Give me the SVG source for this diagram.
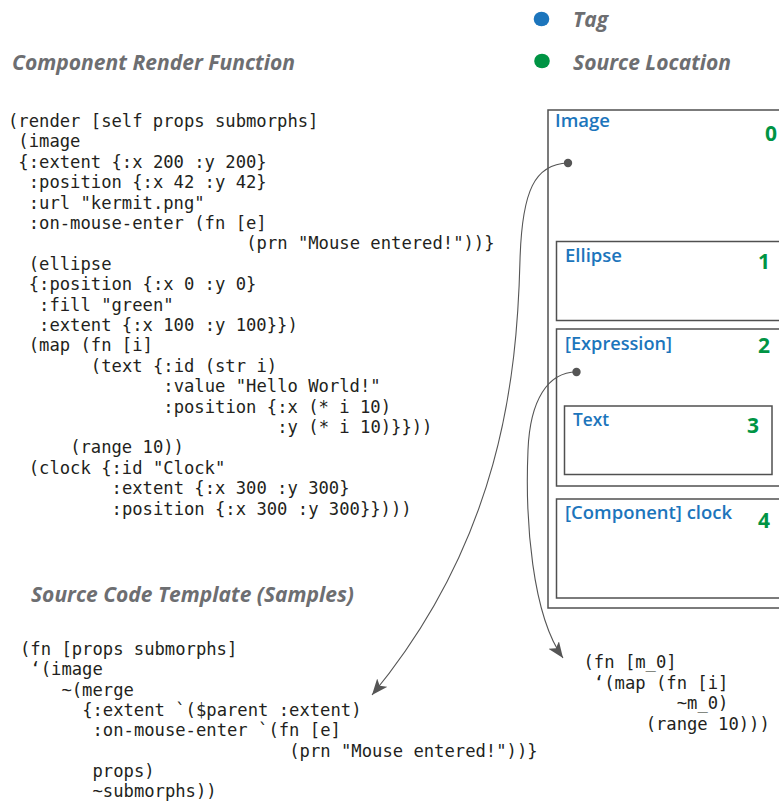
<svg xmlns="http://www.w3.org/2000/svg" width="779" height="803" viewBox="0 0 779 803">
  <style>
    .heading { font-family: "Open Sans", "Noto Sans", sans-serif; font-style: italic; font-weight: 700; font-size: 22px; fill: #6d6e71; }
    .code { font-family: "DejaVu Sans Mono", "Liberation Mono", monospace; font-size: 17.2px; fill: #231f20; }
    .tag { font-family: "Open Sans", "Noto Sans", sans-serif; font-weight: 600; font-size: 18px; fill: #1c75bc; }
    .loc { font-family: "Open Sans", "Noto Sans", sans-serif; font-weight: 700; font-size: 21px; fill: #009444; }
    .box { fill: #ffffff; stroke: #505050; stroke-width: 1.5; }
    .link { fill: none; stroke: #555555; stroke-width: 1.1; }
    .anchor { fill: #555555; }
  </style>
  <defs>
    <marker id="arrow" markerUnits="userSpaceOnUse" markerWidth="17" markerHeight="14" refX="16" refY="6.5" orient="auto">
      <path d="M0,0 L16,6.5 L0,13 L4,6.5 z" fill="#555555"/>
    </marker>
  </defs>

  <rect width="779" height="803" fill="#ffffff"/>

  <!-- legend -->
  <g id="legend">
    <ellipse cx="541.5" cy="19" rx="7.8" ry="7.3" fill="#1c75bc"/>
    <text class="heading" x="573" y="27" textLength="35" lengthAdjust="spacingAndGlyphs">Tag</text>
    <ellipse cx="542" cy="61" rx="7.8" ry="7.3" fill="#009444"/>
    <text class="heading" x="573" y="70" textLength="158" lengthAdjust="spacingAndGlyphs">Source Location</text>
  </g>

  <!-- section titles -->
  <text class="heading" x="12" y="70" textLength="283" lengthAdjust="spacingAndGlyphs">Component Render Function</text>
  <text class="heading" x="31" y="602" textLength="323" lengthAdjust="spacingAndGlyphs">Source Code Template (Samples)</text>

  <!-- render function source; indents are laid out on a 10.356px column grid -->
  <g id="render-code" class="code">
    <text x="8" y="127">(render [self props submorphs]</text>
    <text x="18.36" y="147.4">(image</text>
    <text x="18.36" y="167.8">{:extent {:x 200 :y 200}</text>
    <text x="28.71" y="188.2">:position {:x 42 :y 42}</text>
    <text x="28.71" y="208.6">:url "kermit.png"</text>
    <text x="28.71" y="229">:on-mouse-enter (fn [e]</text>
    <text x="246.19" y="249.4">(prn "Mouse entered!"))}</text>
    <text x="28.71" y="269.8">(ellipse</text>
    <text x="28.71" y="290.2">{:position {:x 0 :y 0}</text>
    <text x="39.07" y="310.6">:fill "green"</text>
    <text x="39.07" y="331">:extent {:x 100 :y 100}})</text>
    <text x="28.71" y="351.4">(map (fn [i]</text>
    <text x="90.85" y="371.8">(text {:id (str i)</text>
    <text x="163.34" y="392.2">:value "Hello World!"</text>
    <text x="163.34" y="412.6">:position {:x (* i 10)</text>
    <text x="277.26" y="433">:y (* i 10)}}))</text>
    <text x="70.14" y="453.4">(range 10))</text>
    <text x="28.71" y="473.8">(clock {:id "Clock"</text>
    <text x="111.56" y="494.2">:extent {:x 300 :y 300}</text>
    <text x="111.56" y="514.6">:position {:x 300 :y 300}})))</text>
  </g>

  <!-- template samples -->
  <g id="template-image" class="code">
    <text x="20" y="655">(fn [props submorphs]</text>
    <text x="30.36" y="675.3">‘(image</text>
    <text x="61.42" y="695.6">~(merge</text>
    <text x="82.14" y="715.9">{:extent `($parent :extent)</text>
    <text x="92.49" y="736.2">:on-mouse-enter `(fn [e]</text>
    <text x="289.26" y="756.5">(prn "Mouse entered!"))}</text>
    <text x="92.49" y="776.8">props)</text>
    <text x="92.49" y="797.1">~submorphs))</text>
  </g>
  <g id="template-map" class="code">
    <text x="583.5" y="668">(fn [m_0]</text>
    <text x="593.86" y="688.6">‘(map (fn [i]</text>
    <text x="676.7" y="709.2">~m_0)</text>
    <text x="645.64" y="729.8">(range 10)))</text>
  </g>

  <!-- morph tree -->
  <g id="node-image">
    <rect class="box" x="548" y="110" width="250" height="498"/>
    <text class="tag" x="555" y="127" textLength="55" lengthAdjust="spacingAndGlyphs">Image</text>
    <text class="loc" x="765" y="141">0</text>
  </g>
  <g id="node-ellipse">
    <rect class="box" x="556.5" y="241.5" width="240" height="79"/>
    <text class="tag" x="565" y="262" textLength="57" lengthAdjust="spacingAndGlyphs">Ellipse</text>
    <text class="loc" x="758" y="269">1</text>
  </g>
  <g id="node-expression">
    <rect class="box" x="556.5" y="329" width="240" height="157"/>
    <text class="tag" x="565" y="350" textLength="107" lengthAdjust="spacingAndGlyphs">[Expression]</text>
    <text class="loc" x="758" y="353">2</text>
  </g>
  <g id="node-text">
    <rect class="box" x="564.5" y="406" width="207.5" height="68.5"/>
    <text class="tag" x="573" y="425.5" textLength="36" lengthAdjust="spacingAndGlyphs">Text</text>
    <text class="loc" x="747" y="433">3</text>
  </g>
  <g id="node-clock">
    <rect class="box" x="556.5" y="499" width="240" height="99"/>
    <text class="tag" x="565" y="519" textLength="167" lengthAdjust="spacingAndGlyphs">[Component] clock</text>
    <text class="loc" x="758" y="528">4</text>
  </g>

  <!-- links from morphs to their source templates -->
  <g id="connectors">
    <path class="link" d="M568,163 C535,164 522,190 520,260 C517,380 500,540 372,695" marker-end="url(#arrow)"/>
    <path class="link" d="M576.5,372 C548,372 530,400 528,450 C525,520 532,615 563,658" marker-end="url(#arrow)"/>
    <circle class="anchor" cx="568" cy="163" r="4.2"/>
    <circle class="anchor" cx="576.5" cy="372" r="4.2"/>
  </g>
</svg>
